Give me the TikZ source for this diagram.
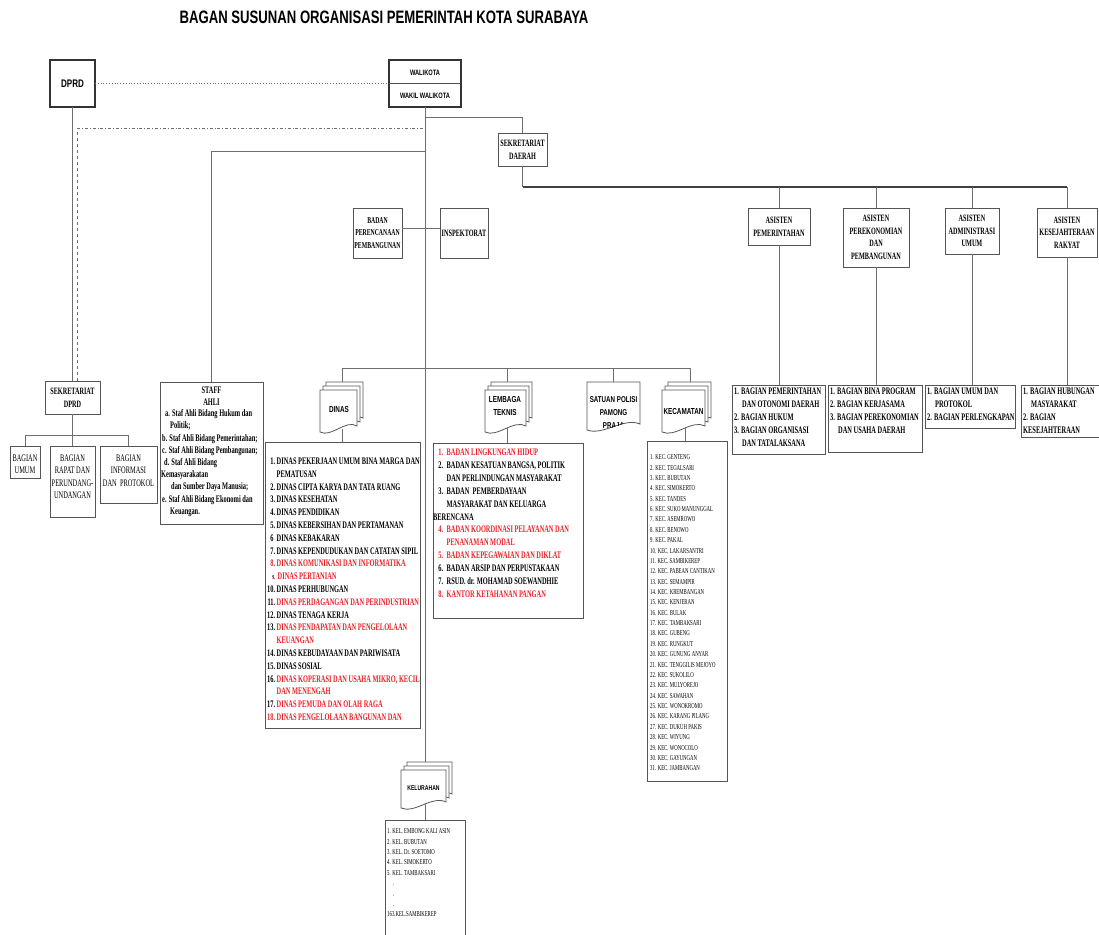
\documentclass[tikz,border=0pt]{standalone}
\usepackage{fontspec}
\newfontfamily\hvc[FakeStretch=0.73]{Liberation Sans}
\newfontfamily\tmc[FakeStretch=0.64]{Liberation Serif}
\definecolor{redt}{RGB}{236,32,40}
\definecolor{linec}{RGB}{110,110,110}
\definecolor{bordc}{RGB}{85,85,85}
\newcommand\rt[1]{\textcolor{redt}{#1}}
\newcommand\dn[1]{\makebox[10pt][r]{#1}\hspace{1.5pt}}
\newcommand\lbn[1]{\makebox[10pt][r]{#1}\hspace{3.5pt}}
\newcommand\docpage[4]{%
  \pgfmathsetmacro\dxa{#1}\pgfmathsetmacro\dya{#2}%
  \pgfmathsetmacro\dxb{#3}\pgfmathsetmacro\dyb{#4}%
  \pgfmathsetmacro\dw{\dxb-\dxa}%
  \filldraw[docst] (\dxa,\dya) -- (\dxb,\dya) -- (\dxb,\dyb-6)
    .. controls (\dxa+0.7*\dw,\dyb-13) and (\dxa+0.3*\dw,\dyb+6) .. (\dxa,\dyb) -- cycle;}
\newcommand\multidoc[4]{%
  \docpage{#1+6}{#2-8}{#3+6}{#4-8}%
  \docpage{#1+3}{#2-4}{#3+3}{#4-4}%
  \docpage{#1}{#2}{#3}{#4}}
\begin{document}
\begin{tikzpicture}[x=1pt,y=-1pt,
  box/.style={draw=bordc, line width=0.9pt, fill=white, inner sep=0pt, outer sep=0pt},
  con/.style={draw=linec, line width=0.8pt},
  docst/.style={draw=bordc, line width=0.8pt, fill=white},
  hb/.style={font=\hvc\bfseries\fontsize{8.7}{13.5}\selectfont, inner sep=0pt, align=center},
  tb/.style={font=\tmc\bfseries\fontsize{9.7}{12.6}\selectfont, align=center},
  tr/.style={font=\tmc\fontsize{10}{12.3}\selectfont, inner sep=0pt, align=center},
  lst/.style={font=\tmc\bfseries\fontsize{10}{12.8}\selectfont, inner sep=0pt, align=left, anchor=north west},
  lstb/.style={lst, font=\tmc\bfseries\fontsize{10}{13}\selectfont},
  sm/.style={font=\tmc\fontsize{7.5}{10.37}\selectfont, inner sep=0pt, align=left, anchor=north west}]
\useasboundingbox (0,0) rectangle (1099,934);
\fill[white] (0,0) rectangle (1099,934);

% title
\node[font=\hvc\bfseries\fontsize{18}{20}\selectfont, inner sep=0pt] (title) at (384,17)
  {BAGAN SUSUNAN ORGANISASI PEMERINTAH KOTA SURABAYA};

% junction coordinates
\coordinate (jSek) at (425,117);
\coordinate (jDash) at (77,128);
\coordinate (jStaff) at (425,151);
\coordinate (jBus) at (522.5,187);
\coordinate (busL) at (342,368);
\coordinate (busR) at (690,368);
\coordinate (kelTop) at (425,762);
\coordinate (dinTop) at (342,382);
\coordinate (dinBot) at (342,429);
\coordinate (lemTop) at (507,382);
\coordinate (lemBot) at (507,428);
\coordinate (satTop) at (613,382);
\coordinate (kecTop) at (690,382);
\coordinate (kecBot) at (685,428);
\coordinate (kelBot) at (425,804);
\coordinate (jDprdB) at (72.5,435);

% top
\node[box, line width=1.8pt, draw=black!80, minimum width=45pt, minimum height=47pt,
  font=\hvc\bfseries\fontsize{11}{12}\selectfont] (dprd) at (72.5,83.5) {DPRD};
\node[box, line width=2.6pt, draw=black!80, minimum width=72pt, minimum height=47pt] (wk) at (425,83.5) {};
\draw[line width=0.6pt, draw=black!70] (wk.west) -- (wk.east);
\node[hb, font=\hvc\bfseries\fontsize{7.8}{9}\selectfont] (wk1) at (425,72.5) {WALIKOTA};
\node[hb, font=\hvc\bfseries\fontsize{7.8}{9}\selectfont] (wk2) at (425,96) {WAKIL WALIKOTA};

\node[box,tb,minimum width=49pt,minimum height=33pt] (sekda) at (522.5,149.5) {SEKRETARIAT\\DAERAH};
\node[box,tb,minimum width=62pt,minimum height=37pt] (as1) at (779,226.5) {ASISTEN\\PEMERINTAHAN};
\node[box,tb,minimum width=66pt,minimum height=59pt] (as2) at (876,237.5) {ASISTEN\\PEREKONOMIAN\\DAN\\PEMBANGUNAN};
\node[box,tb,minimum width=54pt,minimum height=46pt] (as3) at (972,231) {ASISTEN\\ADMINISTRASI\\UMUM};
\node[box,tb,minimum width=60pt,minimum height=49pt] (as4) at (1067,232.5) {ASISTEN\\KESEJAHTERAAN\\RAKYAT};

\node[box,tb,font=\tmc\bfseries\fontsize{9}{12.8}\selectfont,minimum width=49pt,minimum height=50pt] (bpp) at (377.5,233) {BADAN\\PERENCANAAN\\PEMBANGUNAN};
\node[box,tb,minimum width=48pt,minimum height=50pt] (insp) at (464,233) {INSPEKTORAT};

% bagian boxes under asisten
\node[box, minimum width=93pt, minimum height=69pt, anchor=north west] (bg1) at (732,385) {};
\node[lstb] (bg1t) at (734,387.7) {1. BAGIAN PEMERINTAHAN\\\hspace*{8pt}DAN OTONOMI DAERAH\\2. BAGIAN HUKUM\\3. BAGIAN ORGANISASI\\\hspace*{8pt}DAN TATALAKSANA};
\node[box, minimum width=94pt, minimum height=67pt, anchor=north west] (bg2) at (828,385) {};
\node[lstb] (bg2t) at (830,387.7) {1. BAGIAN BINA PROGRAM\\2. BAGIAN KERJASAMA\\3. BAGIAN PEREKONOMIAN\\\hspace*{8pt}DAN USAHA DAERAH};
\node[box, minimum width=90pt, minimum height=43pt, anchor=north west] (bg3) at (925,385) {};
\node[lstb] (bg3t) at (927,387.7) {1. BAGIAN UMUM DAN\\\hspace*{8pt}PROTOKOL\\2. BAGIAN PERLENGKAPAN};
\node[box, minimum width=82pt, minimum height=52pt, anchor=north west] (bg4) at (1021,385) {};
\node[lstb] (bg4t) at (1023,387.7) {1. BAGIAN HUBUNGAN\\\hspace*{8pt}MASYARAKAT\\2. BAGIAN\\KESEJAHTERAAN};

% DPRD side
\node[box,tb,minimum width=55pt,minimum height=33pt] (sdprd) at (72.5,397.5) {SEKRETARIAT\\DPRD};
\node[box, minimum width=30pt, minimum height=32pt] (bumum) at (25,462) {};
\node[tr, anchor=north] (bumumT) at (25,454.7) {BAGIAN\\UMUM};
\node[box, minimum width=45pt, minimum height=71pt] (brapat) at (72.5,481.5) {};
\node[tr, anchor=north] (brapatT) at (72.5,454.7) {BAGIAN\\RAPAT DAN\\PERUNDANG-\\UNDANGAN};
\node[box, minimum width=57pt, minimum height=57pt] (binfo) at (128.5,474.5) {};
\node[tr, anchor=north] (binfoT) at (128.5,454.7) {BAGIAN\\INFORMASI\\DAN\ \ PROTOKOL};

% staff ahli
\node[box, minimum width=103pt, minimum height=142pt] (staff) at (211.5,453) {};
\node[font=\tmc\bfseries\fontsize{10}{11.5}\selectfont, align=center, inner sep=0pt, anchor=north] (staffT) at (211.5,386.7) {STAFF\\AHLI};
\node[lst, font=\tmc\bfseries\fontsize{10}{12.2}\selectfont] (staffL) at (162,409.5)
 {\hspace*{3pt}a. Staf Ahli Bidang Hukum dan\\
  \hspace*{8pt}Politik;\\
  b. Staf Ahli Bidang Pemerintahan;\\
  c. Staf Ahli Bidang Pembangunan;\\
  \hspace*{2pt}d. Staf Ahli Bidang\\
  \hspace*{-1pt}Kemasyarakatan\\
  \hspace*{9pt}dan Sumber Daya Manusia;\\
  e. Staf Ahli Bidang Ekonomi dan\\
  \hspace*{8pt}Keuangan.};

% documents
\multidoc{320}{390}{357}{432}
\multidoc{485}{390}{526}{432}
\multidoc{662}{390}{705}{432}
\multidoc{401}{770}{446}{808}
\filldraw[docst] (587,382) -- (640,382) -- (640,424) .. controls (624,417) and (603,436) .. (587,430) -- cycle;
\begin{scope}
  \clip (587,382) -- (640,382) -- (640,424) .. controls (624,417) and (603,436) .. (587,430) -- cycle;
  \node[hb, font=\hvc\bfseries\fontsize{8.5}{12.7}\selectfont, anchor=north] (satT) at (613.5,396.5) {SATUAN POLISI\\PAMONG\\PRAJA};
\end{scope}
\node[hb] (dinT) at (339,409) {DINAS};
\node[hb] (lemT) at (505,406) {LEMBAGA\\TEKNIS};
\node[hb] (kecT) at (683.5,411) {KECAMATAN};
\node[hb, font=\hvc\bfseries\fontsize{7}{8}\selectfont] (kelT) at (423.5,788) {KELURAHAN};

% lists
\node[box, minimum width=155pt, minimum height=286pt] (dinasL) at (342.5,585) {};
\node[lst] (dinasT) at (265,457.7)
 {\dn{1.}DINAS PEKERJAAN UMUM BINA MARGA DAN\\
  \hspace*{11.5pt}PEMATUSAN\\
  \dn{2.}DINAS CIPTA KARYA DAN TATA RUANG\\
  \dn{3.}DINAS KESEHATAN\\
  \dn{4.}DINAS PENDIDIKAN\\
  \dn{5.}DINAS KEBERSIHAN DAN PERTAMANAN\\
  \dn{6\phantom{.}}DINAS KEBAKARAN\\
  \dn{7.}DINAS KEPENDUDUKAN DAN CATATAN SIPIL\\
  \rt{\dn{8.}DINAS KOMUNIKASI DAN INFORMATIKA}\\
  \dn{{\fontsize{6}{6}\selectfont 9.}}\hspace{1pt}\rt{DINAS PERTANIAN}\\
  \dn{10.}DINAS PERHUBUNGAN\\
  \dn{11.}\rt{DINAS PERDAGANGAN DAN PERINDUSTRIAN}\\
  \dn{12.}DINAS TENAGA KERJA\\
  \dn{13.}\rt{DINAS PENDAPATAN DAN PENGELOLAAN}\\
  \hspace*{11.5pt}\rt{KEUANGAN}\\
  \dn{14.}DINAS KEBUDAYAAN DAN PARIWISATA\\
  \dn{15.}DINAS SOSIAL\\
  \dn{16.}\rt{DINAS KOPERASI DAN USAHA MIKRO, KECIL}\\
  \hspace*{11.5pt}\rt{DAN MENENGAH}\\
  \dn{17.}\rt{DINAS PEMUDA DAN OLAH RAGA}\\
  \rt{\dn{18.}DINAS PENGELOLAAN BANGUNAN DAN}};

\node[box, minimum width=150pt, minimum height=175pt] (lemL) at (508,530.5) {};
\node[lst, font=\tmc\bfseries\fontsize{10}{12.9}\selectfont] (lemTx) at (433,448.7)
 {\rt{\lbn{1.}BADAN LINGKUNGAN HIDUP}\\
  \lbn{2.}BADAN KESATUAN BANGSA, POLITIK\\
  \hspace*{13.5pt}DAN PERLINDUNGAN MASYARAKAT\\
  \lbn{3.}BADAN\ \ PEMBERDAYAAN\\
  \hspace*{13.5pt}MASYARAKAT DAN KELUARGA\\
  BERENCANA\\
  \rt{\lbn{4.}BADAN KOORDINASI PELAYANAN DAN}\\
  \hspace*{13.5pt}\rt{PENANAMAN MODAL}\\
  \rt{\lbn{5.}BADAN KEPEGAWAIAN DAN DIKLAT}\\
  \lbn{6.}BADAN ARSIP DAN PERPUSTAKAAN\\
  \lbn{7.}RSUD. dr. MOHAMAD SOEWANDHIE\\
  \rt{\lbn{8.}KANTOR KETAHANAN PANGAN}};

\node[box, minimum width=80pt, minimum height=340pt] (kecL) at (687,611) {};
\node[sm] (kecTx) at (650,454.5)
 {1. KEC. GENTENG\\2. KEC. TEGALSARI\\3. KEC. BUBUTAN\\4. KEC. SIMOKERTO\\5. KEC. TANDES\\
  6. KEC. SUKO MANUNGGAL\\7. KEC. ASEMROWO\\8. KEC. BENOWO\\9. KEC. PAKAL\\10. KEC. LAKARSANTRI\\
  11. KEC. SAMBIKEREP\\12. KEC. PABEAN CANTIKAN\\13. KEC. SEMAMPIR\\14. KEC. KREMBANGAN\\15. KEC. KENJERAN\\
  16. KEC. BULAK\\17. KEC. TAMBAKSARI\\18. KEC. GUBENG\\19. KEC. RUNGKUT\\20. KEC. GUNUNG ANYAR\\
  21. KEC. TENGGILIS MEJOYO\\22. KEC. SUKOLILO\\23. KEC. MULYOREJO\\24. KEC. SAWAHAN\\25. KEC. WONOKROMO\\
  26. KEC. KARANG PILANG\\27. KEC. DUKUH PAKIS\\28. KEC. WIYUNG\\29. KEC. WONOCOLO\\30. KEC. GAYUNGAN\\
  31. KEC. JAMBANGAN};

\node[box, minimum width=80pt, minimum height=125pt] (kelL) at (425,882.5) {};
\node[sm, font=\tmc\fontsize{7.5}{10.4}\selectfont] (kelTx) at (387,828.5)
 {1. KEL. EMBONG KALI ASIN\\2. KEL. BUBUTAN\\3. KEL. Dr. SOETOMO\\4. KEL. SIMOKERTO\\5. KEL. TAMBAKSARI\\
  \hspace*{6pt}.\\\hspace*{6pt}.\\\hspace*{6pt}.\\163.KEL.SAMBIKEREP};

% connectors
\draw[con, dotted, line width=0.9pt] (dprd.east) -- (wk.west);
\draw[con] (wk.south) -- (kelTop);
\draw[con] (jSek) -| (sekda.north);
\draw[con] (sekda.south) -- (jBus);
\draw[line width=1.6pt, draw=black!75] (jBus) -- (jBus -| as4.north);
\foreach \n in {as1,as2,as3,as4} \draw[con] (jBus -| \n.north) -- (\n.north);
\draw[con] (as1.south) -- (as1.south |- bg1.north);
\draw[con] (as2.south) -- (as2.south |- bg2.north);
\draw[con] (as3.south) -- (as3.south |- bg3.north);
\draw[con] (as4.south) -- (as4.south |- bg4.north);
\draw[con] ([yshift=5pt]bpp.east) -- ([yshift=5pt]insp.west);
\draw[con] (jStaff) -| (staff.north);
\draw[con] (dprd.south) -- (sdprd.north);
\draw[con, dashed] (sdprd.north -| jDash) -- (jDash);
\draw[con, dash dot] (jDash) -- (jDash -| wk.south);
\draw[con] (sdprd.south) -- (jDprdB);
\draw[con] (bumum.north) |- (binfo.north |- jDprdB) -- (binfo.north);
\draw[con] (jDprdB) -- (brapat.north);
\draw[con] (busL) -- (busR);
\draw[con] (busL) -- (dinTop);
\draw[con] (busL -| lemTop) -- (lemTop);
\draw[con] (busL -| satTop) -- (satTop);
\draw[con] (busR) -- (kecTop);
\draw[con] (dinBot) -- (dinBot |- dinasL.north);
\draw[con] (lemBot) -- (lemBot |- lemL.north);
\draw[con] (kecBot) -- (kecBot |- kecL.north);
\draw[con] (kelBot) -- (kelL.north);
\end{tikzpicture}
\end{document}
